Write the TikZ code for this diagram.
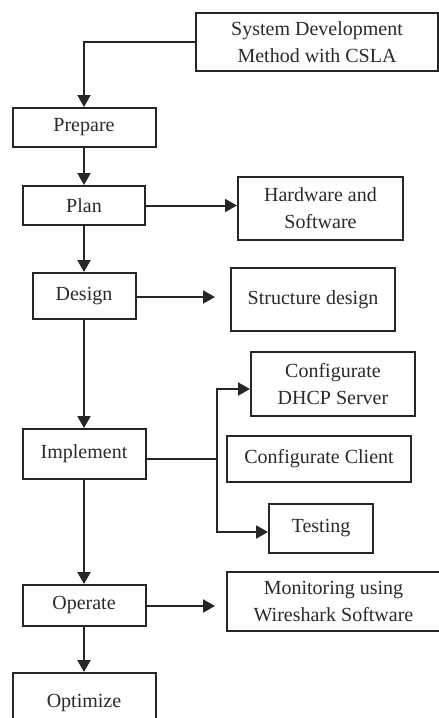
\documentclass[tikz,border=0pt]{standalone}
\usepackage{fontspec}
\setmainfont{Liberation Serif}
\usetikzlibrary{arrows.meta}
\definecolor{ink}{HTML}{2A2A2A}
\tikzset{
  box/.style={draw=black!85, line width=2pt, rectangle, inner sep=0pt, align=center,
    text=ink, font=\fontsize{20}{27}\selectfont},
  conn/.style={draw=black!85, line width=2pt},
  arr/.style={conn, -{Triangle[length=12pt,width=13pt]}}
}
\begin{document}
\begin{tikzpicture}[x=1pt,y=-1pt]
\useasboundingbox (0,0) rectangle (439,718);
\fill[white] (0,0) rectangle (439,718);
\clip (0,0) rectangle (439,718);
\node[box, minimum width=242pt, minimum height=58pt] (sys) at (317,42) {System Development\\Method with CSLA};
\node[box, minimum width=143pt, minimum height=39pt] (prep) at (84,127.5) {Prepare};
\node[box, minimum width=122pt, minimum height=39pt] (plan) at (84,205.5) {Plan};
\node[box, minimum width=165pt, minimum height=63pt] (hw) at (320.5,208.5) {Hardware and\\Software};
\node[box, minimum width=103pt, minimum height=46pt] (des) at (84,296) {Design};
\node[box, minimum width=164pt, minimum height=63pt] (str) at (313,299.5) {Structure design};
\node[box, minimum width=164pt, minimum height=64pt] (dhcp) at (333,384) {Configurate\\DHCP Server};
\node[box, minimum width=123pt, minimum height=50pt] (imp) at (84,454) {Implement};
\node[box, minimum width=184pt, minimum height=46pt] (cli) at (319,459) {Configurate Client};
\node[box, minimum width=104pt, minimum height=49pt] (test) at (321,528.5) {Testing};
\node[box, minimum width=123pt, minimum height=41pt] (op) at (84,605.5) {Operate};
\node[box, minimum width=213pt, minimum height=59pt] (mon) at (333.5,601.5) {Monitoring using\\Wireshark Software};
\node[box, minimum width=143pt, minimum height=60pt] (opt) at (84,703) {Optimize};
\coordinate (desend) at (215,297);
\coordinate (opend) at (215,606);
\coordinate (split) at (217,459);
\draw[arr] (sys.west) -| (prep.north);
\draw[arr] (prep.south) -- (plan.north);
\draw[arr] (plan.east) -- (plan.east -| hw.west);
\draw[arr] (plan.south) -- (des.north);
\draw[arr] (des.east |- desend) -- (desend);
\draw[arr] (des.south) -- (imp.north);
\draw[conn] (imp.east |- split) -- (split);
\draw[arr] (split) |- ([yshift=-5pt]dhcp.west);
\draw[arr] (split) |- ([yshift=-3.5pt]test.west);
\draw[arr] (imp.south) -- (op.north);
\draw[arr] (op.east |- opend) -- (opend);
\draw[arr] (op.south) -- (opt.north);
\end{tikzpicture}
\end{document}
